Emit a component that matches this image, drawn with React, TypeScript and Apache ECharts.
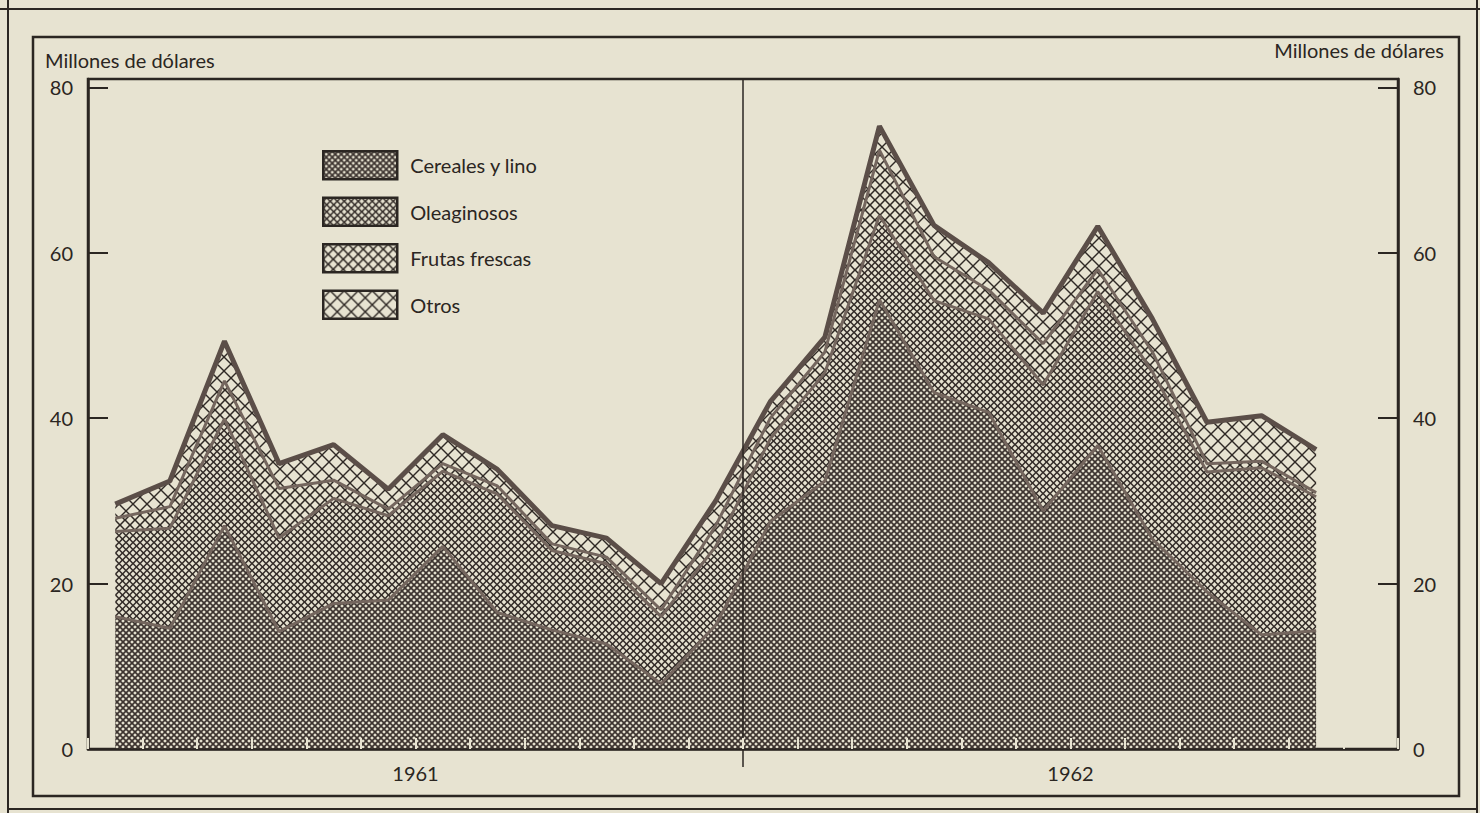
import React, { useEffect, useRef } from "react";
import * as echarts from "echarts";

// ---- data (millones de dólares, monthly, Jan 1961 – Dec 1962) ----
const months = [
  "Ene 1961", "Feb 1961", "Mar 1961", "Abr 1961", "May 1961", "Jun 1961",
  "Jul 1961", "Ago 1961", "Sep 1961", "Oct 1961", "Nov 1961", "Dic 1961",
  "Ene 1962", "Feb 1962", "Mar 1962", "Abr 1962", "May 1962", "Jun 1962",
  "Jul 1962", "Ago 1962", "Sep 1962", "Oct 1962", "Nov 1962", "Dic 1962",
];
const years = ["1961", "1962"];
const yTicks = [0, 20, 40, 60, 80];

const cereales = [
  16.0, 14.6, 27.0, 14.2, 17.6, 18.0, 24.5, 16.5, 14.4, 12.7, 7.9, 15.0,
  27.5, 32.4, 54.3, 43.1, 40.7, 28.8, 36.7, 25.4, 19.0, 13.8, 14.3, null,
];
const oleaginosos = [
  10.3, 12.1, 12.9, 11.3, 12.7, 10.2, 9.1, 14.3, 9.6, 9.7, 8.1, 9.5,
  10.0, 13.1, 10.2, 11.1, 11.3, 15.2, 18.6, 20.2, 14.5, 20.2, 16.2, null,
];
const frutas = [
  1.6, 2.6, 4.6, 6.0, 2.2, 0.8, 0.9, 1.0, 0.8, 0.8, 0.8, 2.5,
  2.5, 2.5, 7.9, 5.3, 3.5, 5.0, 2.7, 2.4, 1.0, 0.8, 0.5, null,
];
const otros = [
  1.7, 3.1, 4.8, 3.0, 4.3, 2.4, 3.5, 2.0, 2.2, 2.3, 3.2, 3.0,
  2.0, 1.8, 2.9, 3.8, 3.3, 3.7, 5.2, 4.0, 5.0, 5.5, 5.2, null,
];
const seriesNames = ["Cereales y lino", "Oleaginosos", "Frutas frescas", "Otros"];

// ---- styling ----
const PAPER = "#e7e3d1";
const INK = "#2b2622";
const FONT = "Lato, 'Noto Sans', sans-serif";

function hatch(s: number, d: number, ink: string) {
  const c = s / 2;
  const dia = (cx: number, cy: number) =>
    `${cx},${cy - d} ${cx + d},${cy} ${cx},${cy + d} ${cx - d},${cy}`;
  const polys = [dia(c, c), dia(0, 0), dia(s, 0), dia(0, s), dia(s, s)]
    .map((p) => `<polygon points='${p}' fill='${PAPER}'/>`)
    .join("");
  const svg = `<svg xmlns='http://www.w3.org/2000/svg' width='${s}' height='${s}'><rect width='${s}' height='${s}' fill='${ink}'/>${polys}</svg>`;
  return {
    image: "data:image/svg+xml;charset=utf-8," + encodeURIComponent(svg),
    repeat: "repeat",
    imageWidth: s,
    imageHeight: s,
  };
}

const patterns = [
  hatch(6, 1.8, "#3d3430"),
  hatch(7, 2.4, "#332c28"),
  hatch(10, 3.9, "#2f2925"),
  hatch(14, 6.0, "#2f2925"),
];
const seriesData = [cereales, oleaginosos, frutas, otros];

export default function App() {
  const ref = useRef<HTMLDivElement>(null);

  useEffect(() => {
    if (!ref.current) return;
    const chart = echarts.init(ref.current, null, { renderer: "svg" });

    const yAxisCommon = (position: "left" | "right") => ({
      type: "value",
      position,
      min: 0,
      max: 81,
      interval: 20,
      axisLine: { show: true, lineStyle: { color: INK, width: 2.5 } },
      axisTick: { show: true, inside: true, length: 20, lineStyle: { color: INK, width: 2 } },
      splitLine: { show: false },
      axisLabel: {
        show: true,
        showMaxLabel: false,
        margin: 15,
        fontSize: 20,
        fontFamily: FONT,
        color: INK,
        formatter: (v: number) => (yTicks.includes(v) ? String(v) : ""),
      },
    });

    const frame = (id: string, x1: number, y1: number, x2: number, y2: number, w: number) => ({
      id,
      type: "line",
      silent: true,
      shape: { x1, y1, x2, y2 },
      style: { stroke: INK, lineWidth: w },
    });

    const option: any = {
      animation: false,
      backgroundColor: PAPER,
      grid: {
        left: 88,
        right: 82,
        top: 79,
        bottom: 64,
        show: true,
        borderColor: INK,
        borderWidth: 2.5,
        backgroundColor: "transparent",
      },
      legend: {
        orient: "vertical",
        left: 322,
        top: 150,
        icon: "rect",
        itemWidth: 74,
        itemHeight: 28,
        itemGap: 16,
        selectedMode: false,
        padding: 0,
        itemStyle: { borderColor: INK, borderWidth: 2.5 },
        textStyle: { fontSize: 20, fontFamily: FONT, color: INK, padding: [0, 0, 0, 8] },
        data: seriesNames.map((name, i) => ({
          name,
          itemStyle: { color: patterns[i], borderColor: INK, borderWidth: 2.5 },
        })),
      },
      xAxis: [
        {
          type: "category",
          data: months,
          boundaryGap: true,
          position: "bottom",
          z: 10,
          axisLine: { show: true, lineStyle: { color: INK, width: 2.5 } },
          axisTick: { show: true, inside: true, length: 11, interval: 0, lineStyle: { color: PAPER, width: 2 } },
          axisLabel: { show: false },
          splitLine: { show: false },
        },
        {
          type: "category",
          data: years,
          boundaryGap: true,
          position: "bottom",
          z: 10,
          axisLine: { show: false },
          axisTick: { show: false },
          splitLine: {
            show: true,
            interval: 0,
            lineStyle: { color: INK, width: 1.5 },
          },
          axisLabel: { show: true, margin: 14, fontSize: 20, fontFamily: FONT, color: INK },
        },
      ],
      yAxis: [yAxisCommon("left"), yAxisCommon("right")],
      series: seriesNames.map((name, i) => ({
        name,
        type: "line",
        stack: "total",
        xAxisIndex: 0,
        yAxisIndex: 0,
        data: seriesData[i],
        symbol: "none",
        z: 6 - i,
        itemStyle: { color: "#6b5d56" },
        lineStyle: { color: i === 3 ? "#5b4e48" : "#74665e", width: i === 3 ? 5 : 3 },
        areaStyle: { color: patterns[i], opacity: 1 },
      })),
      graphic: {
        elements: [
          {
            id: "innerFrame",
            type: "rect",
            silent: true,
            shape: { x: 33, y: 37, width: 1426, height: 759 },
            style: { fill: "transparent", stroke: INK, lineWidth: 2.5 },
          },
          frame("outerTop", 0, 9, 1480, 9, 2),
          frame("outerLeft", 8, 0, 8, 813, 2),
          frame("outerRight", 1477, 0, 1477, 813, 2),
          frame("outerBottom", 8, 809, 1477, 809, 2),
          {
            id: "nameLeft",
            type: "text",
            left: 45,
            top: 50,
            style: { text: "Millones de dólares", fontSize: 20, fontFamily: FONT, fill: INK },
          },
          {
            id: "nameRight",
            type: "text",
            right: 1480 - 1444,
            top: 40,
            style: { text: "Millones de dólares", fontSize: 20, fontFamily: FONT, fill: INK },
          },
        ],
      },
    };

    chart.setOption(option);

    // extend the year divider below the axis, positioned via the axis scale
    const a = chart.convertToPixel({ gridIndex: 0 }, [11, 0]) as number[];
    const b = chart.convertToPixel({ gridIndex: 0 }, [12, 0]) as number[];
    if (a && b && isFinite(a[0]) && isFinite(b[0])) {
      const x = (a[0] + b[0]) / 2;
      chart.setOption({
        graphic: {
          elements: [frame("yearTick", x, a[1], x, a[1] + 18, 1.5)],
        },
      });
    }

    return () => chart.dispose();
  }, []);

  return (
    <div
      ref={ref}
      style={{ position: "fixed", left: 0, top: 0, width: 1480, height: 813, background: PAPER }}
    />
  );
}
